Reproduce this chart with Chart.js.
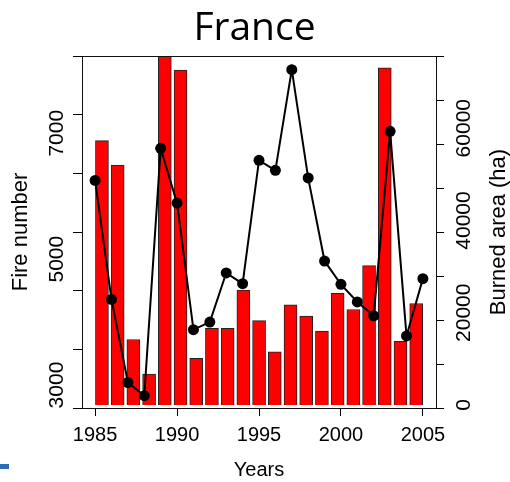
<!DOCTYPE html>
<html>
<head>
<meta charset="utf-8">
<script src="https://cdn.jsdelivr.net/npm/chart.js@4"></script>
<style>
  html, body { margin: 0; padding: 0; background: #fff; }
  #wrap { width: 510px; height: 482px; }
</style>
</head>
<body>
<div id="wrap"><canvas id="fireChart" width="510" height="482"></canvas></div>
<script>
// data
const years = [1985, 1986, 1987, 1988, 1989, 1990, 1991, 1992, 1993, 1994, 1995,
               1996, 1997, 1998, 1999, 2000, 2001, 2002, 2003, 2004, 2005];
const fireNumber = [6250, 4360, 3040, 2830, 6760, 5890, 3880, 4000, 4780, 4610, 6570,
                    6410, 8010, 6290, 4970, 4600, 4320, 4100, 7030, 3780, 4690];
const burnedArea = [57300, 52000, 14200, 6700, 75600, 72600, 10100, 16600, 16600, 24900, 18300,
                    11500, 21700, 19300, 16000, 24200, 20700, 30200, 73100, 13800, 22000];
const fireTickLabels = [3000, 5000, 7000];
const areaTickLabels = [0, 20000, 40000, 60000];
const yearTicks = [1985, 1990, 1995, 2000, 2005];

const AXIS_FONT = 'Liberation Sans, Arial, sans-serif';

// texte, axes titres, cadre (R style)
const rStyle = {
    id: 'rStyle',
    afterDraw(chart) {
        const c = chart.ctx;
        const a = chart.chartArea;
        const yL = chart.scales.y;
        const yR = chart.scales.y1;
        c.save();
        c.fillStyle = '#000';

        // box
        c.strokeStyle = '#111';
        c.lineWidth = 1;
        c.strokeRect(Math.round(a.left) + 0.5, Math.round(a.top) + 0.5,
                     Math.round(a.right - a.left), Math.round(a.bottom - a.top));

        // title
        c.font = '39px "Open Sans"';
        c.textAlign = 'center';
        c.textBaseline = 'alphabetic';
        c.fillText('France', 254.5, 39.5);

        // x title
        c.font = '20px ' + AXIS_FONT;
        c.fillText('Years', (a.left + a.right) / 2, 476);

        // rotated tick labels
        c.font = '21px ' + AXIS_FONT;
        fireTickLabels.forEach(v => {
            c.save();
            c.translate(62.7, yL.getPixelForValue(v));
            c.rotate(-Math.PI / 2);
            c.fillText(String(v), 0, 0);
            c.restore();
        });
        areaTickLabels.forEach(v => {
            c.save();
            c.translate(470, yR.getPixelForValue(v));
            c.rotate(-Math.PI / 2);
            c.fillText(String(v), 0, 0);
            c.restore();
        });

        // y titles
        c.font = '22px ' + AXIS_FONT;
        const midY = (a.top + a.bottom) / 2;
        c.save();
        c.translate(27, midY);
        c.rotate(-Math.PI / 2);
        c.fillText('Fire number', 0, 0);
        c.restore();
        c.save();
        c.translate(505, midY);
        c.rotate(-Math.PI / 2);
        c.fillText('Burned area (ha)', 0, 0);
        c.restore();

        // petit trait bleu en bas a gauche
        c.fillStyle = '#2e6cb5';
        c.fillRect(0, 464, 9, 5);
        c.restore();
    }
};

const ctx = document.getElementById('fireChart').getContext('2d');
new Chart(ctx, {
    data: {
        datasets: [{
            type: 'line',
            label: 'Fire number',
            data: years.map((yr, i) => ({ x: yr, y: fireNumber[i] })),
            xAxisID: 'x',
            yAxisID: 'y',
            borderColor: '#000',
            borderWidth: 2,
            tension: 0,
            pointRadius: 5.5,
            pointBackgroundColor: '#000',
            pointBorderColor: '#000',
            pointBorderWidth: 0,
            order: 0
        }, {
            type: 'bar',
            label: 'Burned area (ha)',
            data: years.map((yr, i) => ({ x: yr, y: burnedArea[i] })),
            xAxisID: 'xb',
            yAxisID: 'y1',
            backgroundColor: '#ff0000',
            borderColor: '#222',
            borderWidth: 1,
            barThickness: 13,
            grouped: false,
            order: 1
        }]
    },
    options: {
        responsive: false,
        animation: false,
        layout: { padding: { top: 56, left: 0, right: 0, bottom: 0 } },
        plugins: {
            legend: { display: false },
            tooltip: { enabled: false },
            title: { display: false }
        },
        scales: {
            x: {
                type: 'linear',
                position: 'bottom',
                offset: false,
                min: 1984.2,
                max: 2005.8,
                afterBuildTicks: s => { s.ticks = yearTicks.map(v => ({ value: v })); },
                ticks: {
                    color: '#000',
                    font: { family: AXIS_FONT, size: 20 },
                    padding: 7,
                    maxRotation: 0,
                    callback: v => String(v)
                },
                grid: { drawOnChartArea: false, drawTicks: true, tickLength: 8, color: '#000' },
                border: { display: true, color: '#000' },
                afterFit: s => { s.height = 74; }
            },
            // axe invisible pour les barres
            xb: {
                type: 'linear',
                display: false,
                offset: false,
                min: 1983.73,
                max: 2006.26
            },
            y: {
                type: 'linear',
                position: 'left',
                min: 2635,
                max: 8227,
                ticks: { display: false, stepSize: 1000, includeBounds: false },
                grid: { drawOnChartArea: false, drawTicks: true, tickLength: 9, color: '#000' },
                border: { display: true, color: '#000' },
                afterFit: s => { s.width = 82; }
            },
            y1: {
                type: 'linear',
                position: 'right',
                min: -650,
                max: 75650,
                ticks: { display: false, stepSize: 10000, includeBounds: false },
                grid: { drawOnChartArea: false, drawTicks: true, tickLength: 8, color: '#000' },
                border: { display: true, color: '#000' },
                afterFit: s => { s.width = 74; }
            }
        }
    },
    plugins: [rStyle]
});
</script>
</body>
</html>
